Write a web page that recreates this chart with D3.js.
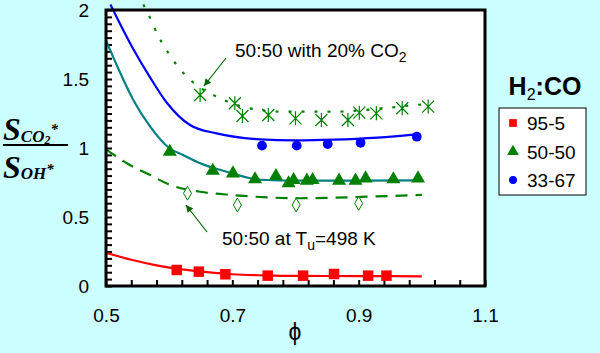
<!DOCTYPE html>
<html>
<head>
<meta charset="utf-8">
<script src="https://cdn.jsdelivr.net/npm/d3@7"></script>
<style>
  body { margin: 0; background: #ccffff; }
  svg { display: block; font-family: "Liberation Sans", Arial, sans-serif; }
</style>
</head>
<body>
<script>
// measured points
const redPhi = [0.612, 0.647, 0.689, 0.756, 0.812, 0.861, 0.915, 0.944]
const redVal = [0.116, 0.104, 0.085, 0.075, 0.075, 0.087, 0.075, 0.075]

const greenPhi = [0.601, 0.669, 0.701, 0.736, 0.769, 0.789, 0.797, 0.818, 0.827, 0.869, 0.895, 0.911, 0.955, 0.994]
const greenVal = [0.973, 0.835, 0.816, 0.773, 0.797, 0.744, 0.768, 0.763, 0.768, 0.763, 0.763, 0.780, 0.773, 0.780]

const bluePhi = [0.747, 0.802, 0.851, 0.903, 0.992]
const blueVal = [1.017, 1.017, 1.029, 1.038, 1.082]

const hotPhi = [0.629, 0.708, 0.801, 0.900]
const hotVal = [0.672, 0.587, 0.587, 0.599]

const co2Phi = [0.649, 0.704, 0.716, 0.757, 0.800, 0.841, 0.883, 0.901, 0.928, 0.969, 1.010]
const co2Val = [1.384, 1.324, 1.232, 1.239, 1.215, 1.203, 1.203, 1.256, 1.251, 1.288, 1.300]

// fitted curves
const redFitPhi = [0.5, 0.54, 0.58, 0.62, 0.66, 0.70, 0.75, 0.80, 0.90, 1.0]
const redFitVal = [0.241, 0.19, 0.15, 0.12, 0.10, 0.085, 0.077, 0.073, 0.072, 0.07]

const tealFitPhi = [0.5, 0.52, 0.543, 0.57, 0.6, 0.622, 0.649, 0.691, 0.744, 0.8, 0.9, 0.995]
const tealFitVal = [1.78, 1.57, 1.35, 1.155, 1.0, 0.949, 0.889, 0.828, 0.77, 0.763, 0.763, 0.765]

const blueFitPhi = [0.507, 0.544, 0.57, 0.596, 0.633, 0.675, 0.744, 0.8, 0.86, 0.93, 0.995]
const blueFitVal = [2.04, 1.71, 1.51, 1.33, 1.167, 1.106, 1.063, 1.055, 1.06, 1.075, 1.10]

const hotFitPhi = [0.5, 0.533, 0.57, 0.599, 0.649, 0.701, 0.807, 0.912, 1.0]
const hotFitVal = [0.99, 0.889, 0.804, 0.737, 0.683, 0.659, 0.636, 0.647, 0.66]

const co2FitPhi = [0.559, 0.567, 0.583, 0.599, 0.614, 0.643, 0.665, 0.72, 0.781, 0.86, 0.939, 0.984, 1.01]
const co2FitVal = [2.04, 1.97, 1.81, 1.686, 1.589, 1.457, 1.396, 1.295, 1.263, 1.263, 1.288, 1.309, 1.32]

const xLabels = [0.5, 0.7, 0.9, 1.1]
const yLabels = [0, 0.5, 1, 1.5, 2]
const legendNames = ["95-5", "50-50", "33-67"]

const svgWidth = 600
const svgHeight = 353
const plotLeft = 106, plotRight = 485, plotTop = 10, plotBottom = 286

const svg = d3.select("body").append("svg")
    .attr("width", svgWidth)
    .attr("height", svgHeight)

svg.append("rect")
    .attr("width", svgWidth).attr("height", svgHeight)
    .attr("fill", "#ccffff")

let xScale = d3.scaleLinear().domain([0.5, 1.1]).range([plotLeft, plotRight])
let yScale = d3.scaleLinear().domain([0, 2]).range([plotBottom, plotTop])

// plot area
svg.append("rect")
    .attr("x", plotLeft).attr("y", plotTop)
    .attr("width", plotRight - plotLeft).attr("height", plotBottom - plotTop)
    .attr("fill", "white")

// minor ticks, inward
let xTicks = d3.range(0, 16).map(i => 0.5 + i * 0.04)
let yTicks = d3.range(0, 41).map(i => i * 0.05)

svg.append("g")
    .attr("transform", `translate(0, ${plotBottom})`)
    .call(d3.axisBottom(xScale).tickValues(xTicks).tickSize(-6).tickFormat(""))
svg.append("g")
    .attr("transform", `translate(${plotLeft}, 0)`)
    .call(d3.axisLeft(yScale).tickValues(yTicks).tickSize(-6).tickFormat(""))
svg.selectAll(".domain").remove()
svg.selectAll(".tick line").attr("stroke", "black").attr("stroke-width", 2)

// tick labels
let xLab = svg.append("g")
    .attr("transform", `translate(0, ${plotBottom})`)
    .call(d3.axisBottom(xScale).tickValues(xLabels).tickSize(0).tickPadding(23)
        .tickFormat(d3.format(".1f")))
let yLab = svg.append("g")
    .attr("transform", `translate(${plotLeft}, 0)`)
    .call(d3.axisLeft(yScale).tickValues(yLabels).tickSize(0).tickPadding(17)
        .tickFormat(d => d))
xLab.select(".domain").remove()
yLab.select(".domain").remove()
svg.selectAll(".tick text")
    .attr("fill", "black")
    .style("font-size", "19px")
    .style("font-family", "Liberation Sans, Arial, sans-serif")

// fits
let line = d3.line()
    .x(d => xScale(d[0]))
    .y(d => yScale(d[1]))
    .curve(d3.curveMonotoneX)

function drawFit(phis, vals, color, dash) {
    svg.append("path")
        .datum(phis.map((p, i) => [p, vals[i]]))
        .attr("d", line)
        .attr("fill", "none")
        .attr("stroke", color)
        .attr("stroke-width", 2.2)
        .attr("stroke-dasharray", dash)
}

drawFit(redFitPhi, redFitVal, "#ff0000", null)
drawFit(tealFitPhi, tealFitVal, "#008080", null)
drawFit(blueFitPhi, blueFitVal, "#0000ff", null)
drawFit(hotFitPhi, hotFitVal, "#008000", "12,8")
drawFit(co2FitPhi, co2FitVal, "#008000", "3,10")

// markers
function drawPoints(phis, vals, sym, size, fill, stroke) {
    svg.append("g").selectAll("path")
        .data(phis.map((p, i) => [p, vals[i]]))
        .enter()
        .append("path")
        .attr("transform", d => `translate(${xScale(d[0])}, ${yScale(d[1])})`)
        .attr("d", d3.symbol().type(sym).size(size))
        .attr("fill", fill)
        .attr("stroke", stroke)
}

drawPoints(redPhi, redVal, d3.symbolSquare, 110, "#ff0000", "none")
drawPoints(greenPhi, greenVal, d3.symbolTriangle, 85, "#008000", "none")
drawPoints(bluePhi, blueVal, d3.symbolCircle, 75, "#0000ff", "none")
drawPoints(hotPhi, hotVal, d3.symbolDiamond, 55, "white", "#008000")

// asterisks: X plus vertical stroke
svg.append("g").selectAll("path")
    .data(co2Phi.map((p, i) => [p, co2Val[i]]))
    .enter()
    .append("path")
    .attr("transform", d => `translate(${xScale(d[0])}, ${yScale(d[1])})`)
    .attr("d", "M0,-7V7M-6,-6L6,6M-6,6L6,-6")
    .attr("stroke", "#008000")
    .attr("stroke-width", 1.2)
    .attr("fill", "none")

// border
svg.append("rect")
    .attr("x", plotLeft).attr("y", plotTop)
    .attr("width", plotRight - plotLeft).attr("height", plotBottom - plotTop)
    .attr("fill", "none")
    .attr("stroke", "black")
    .attr("stroke-width", 3)

// annotations
svg.append("defs").append("marker")
    .attr("id", "arrow")
    .attr("viewBox", "0 0 10 10")
    .attr("refX", 10).attr("refY", 5)
    .attr("markerWidth", 9).attr("markerHeight", 7)
    .attr("markerUnits", "userSpaceOnUse")
    .attr("orient", "auto")
    .append("path")
    .attr("d", "M0,0L10,5L0,10Z")
    .attr("fill", "#006600")

svg.append("line")
    .attr("x1", 226).attr("y1", 58).attr("x2", 204).attr("y2", 86)
    .attr("stroke", "#006600").attr("stroke-width", 1.2)
    .attr("marker-end", "url(#arrow)")
svg.append("line")
    .attr("x1", 207).attr("y1", 232).attr("x2", 186).attr("y2", 205)
    .attr("stroke", "#006600").attr("stroke-width", 1.2)
    .attr("marker-end", "url(#arrow)")

let t1 = svg.append("text").attr("x", 235).attr("y", 57).style("font-size", "19px")
t1.append("tspan").text("50:50 with 20% CO")
t1.append("tspan").attr("dy", 5).style("font-size", "14px").text("2")

let t2 = svg.append("text").attr("x", 222).attr("y", 245).style("font-size", "19px")
t2.append("tspan").text("50:50 at T")
t2.append("tspan").attr("dy", 5).style("font-size", "14px").text("u")
t2.append("tspan").attr("dy", -5).text("=498 K")

// axis titles
svg.append("text")
    .attr("x", 295).attr("y", 340)
    .attr("text-anchor", "middle")
    .style("font-size", "23px")
    .text("ϕ")

let frac = svg.append("g").style("font-family", "Liberation Serif, Times New Roman, serif")
    .style("font-weight", "bold").style("font-style", "italic")
let num = frac.append("text").attr("x", 3).attr("y", 140)
num.append("tspan").style("font-size", "32px").text("S")
num.append("tspan").attr("dy", 2).style("font-size", "17px").text("CO")
num.append("tspan").attr("dy", 2).style("font-size", "12px").text("2")
num.append("tspan").attr("dy", -10).style("font-size", "15px").text("*")
frac.append("line")
    .attr("x1", 3).attr("x2", 68).attr("y1", 145).attr("y2", 145)
    .attr("stroke", "black").attr("stroke-width", 2)
let den = frac.append("text").attr("x", 3).attr("y", 178)
den.append("tspan").style("font-size", "32px").text("S")
den.append("tspan").attr("dy", 1).style("font-size", "17px").text("OH")
den.append("tspan").attr("dy", -5).style("font-size", "15px").text("*")

// legend
let lt = svg.append("text")
    .attr("x", 545).attr("y", 95)
    .attr("text-anchor", "middle")
    .style("font-size", "25px").style("font-weight", "bold")
lt.append("tspan").text("H")
lt.append("tspan").attr("dy", 5).style("font-size", "16px").style("font-weight", "normal").text("2")
lt.append("tspan").attr("dy", -5).text(":CO")

svg.append("rect")
    .attr("x", 499).attr("y", 108).attr("width", 87).attr("height", 87)
    .attr("fill", "white").attr("stroke", "black").attr("stroke-width", 1)

let legendSyms = [d3.symbolSquare, d3.symbolTriangle, d3.symbolCircle]
let legendCols = ["#ff0000", "#008000", "#0000ff"]
let legendSizes = [60, 60, 50]
let legendY = d3.scalePoint().domain(legendNames).range([123, 180])

let items = svg.append("g").selectAll("g")
    .data(legendNames)
    .enter()
    .append("g")
    .attr("transform", d => `translate(513, ${legendY(d)})`)
items.append("path")
    .attr("d", (d, i) => d3.symbol().type(legendSyms[i]).size(legendSizes[i])())
    .attr("fill", (d, i) => legendCols[i])
items.append("text")
    .attr("x", 14).attr("y", 7)
    .style("font-size", "19px")
    .text(d => d)
</script>
</body>
</html>
